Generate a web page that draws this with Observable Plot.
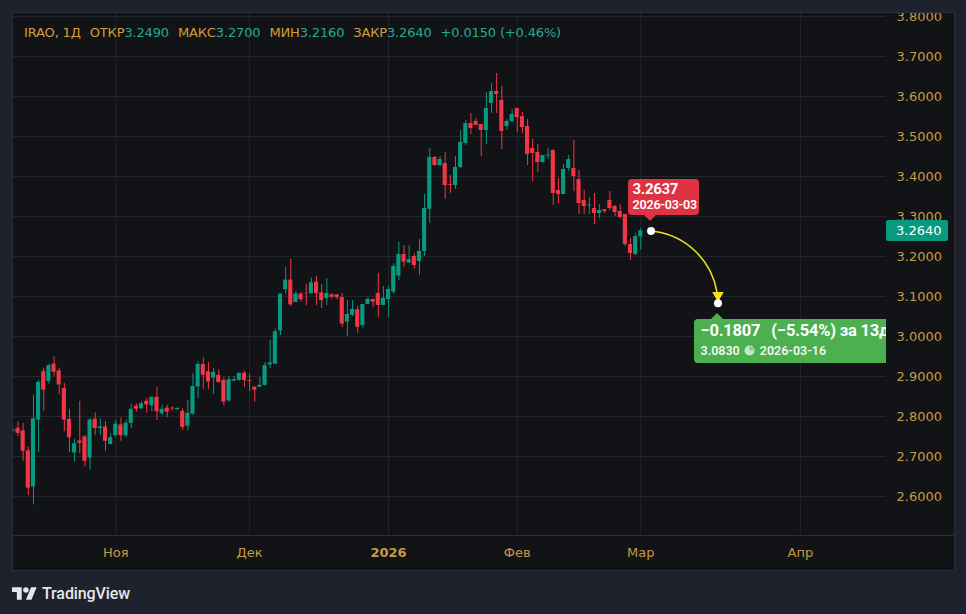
<!DOCTYPE html>
<html>
<head>
<meta charset="utf-8">
<script src="https://cdn.jsdelivr.net/npm/d3@7"></script>
<script src="https://cdn.jsdelivr.net/npm/@observablehq/plot@0.6"></script>
<style>
html,body{margin:0;padding:0;background:#1e222d;}
#root{position:relative;width:966px;height:614px;background:#1e222d;overflow:hidden;font-family:"DejaVu Sans",sans-serif;}
#panel{position:absolute;left:12px;top:12px;width:941px;height:557px;background:#121316;border:1px solid #2a2e39;}
#timeline{position:absolute;left:13px;top:535px;width:941px;height:1px;background:#2a2e39;}
#chart{position:absolute;left:13px;top:13px;}
#clip{position:absolute;left:13px;top:13px;width:873px;height:522px;overflow:hidden;}
#header{position:absolute;left:24px;top:25px;font-size:13px;line-height:15px;white-space:pre;color:#d49f3a;letter-spacing:-0.15px;}
#header .v{color:#22ab94;}
#header .g{margin-left:9px;}
.callout{position:absolute;border-radius:4px;color:#fff;font-family:Roboto,sans-serif;}
.callout .ln{position:absolute;white-space:pre;}
.ptr{position:absolute;width:0;height:0;border-left:6px solid transparent;border-right:6px solid transparent;}
#tag{position:absolute;left:886px;width:62px;height:21px;background:#089981;border-radius:2px;color:#fff;font-size:13px;line-height:21px;padding-left:10px;box-sizing:border-box;}
#logo{position:absolute;left:12px;top:584px;display:flex;align-items:center;color:#e6e7ea;}
#logo span{font-family:Roboto,sans-serif;font-size:16px;font-weight:500;margin-left:5px;letter-spacing:-0.1px;}
</style>
</head>
<body>
<div id="root">
  <div id="panel"></div>
  <div id="timeline"></div>
  <div id="chart"></div>
  <div id="clip"></div>
  <div id="header"></div>
  <div id="logo">
    <svg width="25" height="13" viewBox="0 4 36 18"><path d="M14 22H7V11H0V4h14v18z" fill="#e6e7ea"/><circle cx="20" cy="8" r="4" fill="#e6e7ea"/><path d="M28 22h-8l7.5-18h8L28 22z" fill="#e6e7ea"/></svg>
    <span>TradingView</span>
  </div>
</div>
<script>
// ---- data ----
const opens = [2.763,2.771,2.764,2.714,2.624,2.791,2.912,2.888,2.931,2.914,2.870,2.793,2.709,2.739,2.749,2.696,2.793,2.770,2.774,2.730,
2.752,2.779,2.752,2.783,2.826,2.819,2.838,2.827,2.848,2.807,2.821,2.821,2.817,2.813,2.776,2.806,2.874,2.930,2.912,2.896,
2.903,2.890,2.839,2.888,2.890,2.908,2.890,2.873,2.873,2.878,2.929,2.931,3.014,3.117,3.141,3.085,3.106,3.106,3.107,3.136,
3.109,3.095,3.104,3.104,3.0975,3.036,3.053,3.067,3.0275,3.080,3.0925,3.1075,3.0775,3.0925,3.111,3.151,3.205,3.184,3.200,3.1875,
3.2125,3.318,3.4475,3.4275,3.4325,3.380,3.3775,3.4225,3.4825,3.5325,3.5375,3.530,3.515,3.5825,3.6125,3.590,3.525,3.5375,3.570,3.550,
3.525,3.470,3.460,3.435,3.451,3.465,3.365,3.355,3.420,3.420,3.3925,3.340,3.3265,3.320,3.3075,3.317,3.340,3.325,3.3125,3.305,
3.230,3.205,3.249];
const highs = [2.768,2.786,2.783,2.724,2.853,2.890,2.921,2.931,2.949,2.921,2.883,2.818,2.743,2.838,2.752,2.796,2.809,2.794,2.787,2.757,
2.790,2.796,2.791,2.831,2.832,2.837,2.845,2.848,2.873,2.828,2.828,2.824,2.822,2.820,2.840,2.908,2.937,2.947,2.935,2.920,
2.917,2.897,2.900,2.900,2.908,2.913,2.905,2.875,2.898,2.935,2.991,3.019,3.106,3.173,3.193,3.112,3.110,3.130,3.146,3.151,
3.129,3.145,3.107,3.104,3.1075,3.090,3.090,3.075,3.080,3.098,3.094,3.1575,3.125,3.125,3.182,3.235,3.2275,3.2275,3.207,3.2425,
3.355,3.470,3.450,3.450,3.460,3.4025,3.450,3.515,3.540,3.5575,3.545,3.530,3.610,3.6325,3.6575,3.625,3.5425,3.5675,3.570,3.560,
3.5425,3.4925,3.480,3.4525,3.470,3.4675,3.395,3.430,3.4525,3.490,3.415,3.365,3.3475,3.3575,3.330,3.317,3.3625,3.3275,3.330,3.305,
3.245,3.2575,3.270];
const lows = [2.761,2.750,2.688,2.602,2.579,2.710,2.813,2.881,2.901,2.854,2.762,2.710,2.686,2.707,2.674,2.666,2.752,2.752,2.713,2.730,
2.748,2.738,2.747,2.770,2.811,2.819,2.808,2.812,2.790,2.802,2.797,2.814,2.815,2.765,2.764,2.803,2.845,2.868,2.868,2.855,
2.883,2.826,2.836,2.888,2.888,2.873,2.863,2.836,2.873,2.876,2.920,2.931,3.002,3.105,3.075,3.085,3.086,3.077,3.107,3.077,
3.070,3.077,3.093,3.092,3.023,3.000,3.050,3.008,3.021,3.080,3.072,3.048,3.0775,3.048,3.105,3.140,3.173,3.1825,3.169,3.153,
3.200,3.283,3.425,3.425,3.3425,3.358,3.3675,3.420,3.4775,3.505,3.5275,3.450,3.480,3.5575,3.5575,3.4675,3.515,3.535,3.510,3.5075,
3.4275,3.3875,3.410,3.4325,3.4425,3.3275,3.3325,3.355,3.4125,3.3625,3.305,3.305,3.305,3.280,3.295,3.3075,3.315,3.300,3.295,3.225,
3.190,3.2025,3.216];
const closes = [2.767,2.758,2.713,2.621,2.794,2.885,2.866,2.927,2.911,2.879,2.791,2.747,2.732,2.733,2.688,2.791,2.770,2.774,2.738,2.747,
2.781,2.752,2.783,2.818,2.818,2.832,2.829,2.848,2.812,2.818,2.811,2.819,2.820,2.7725,2.808,2.875,2.930,2.903,2.886,2.910,
2.885,2.836,2.892,2.892,2.908,2.890,2.888,2.866,2.878,2.927,2.934,3.012,3.106,3.141,3.079,3.106,3.092,3.105,3.134,3.107,
3.090,3.1075,3.098,3.097,3.031,3.055,3.0675,3.023,3.080,3.0925,3.086,3.0775,3.095,3.1175,3.175,3.205,3.186,3.1925,3.1775,3.2125,
3.320,3.4475,3.4275,3.4425,3.3775,3.378,3.4225,3.485,3.5325,3.520,3.5275,3.515,3.570,3.6125,3.605,3.5125,3.5375,3.555,3.5475,3.5225,
3.455,3.4575,3.435,3.4525,3.4535,3.3575,3.355,3.4175,3.4425,3.400,3.3325,3.325,3.3285,3.3075,3.315,3.3125,3.320,3.310,3.2975,3.230,
3.2075,3.250,3.264];

// bar index of month ticks and their labels
const tickIndex  = [21, 47, 74, 99, 123, 154];
const tickLabels = ["Ноя", "Дек", "2026", "Фев", "Мар", "Апр"];
const boldLabels = ["2026"];
const priceTicks = [2.6, 2.7, 2.8, 2.9, 3.0, 3.1, 3.2, 3.3, 3.4, 3.5, 3.6, 3.7, 3.8];

// projection annotation
const startIndex = 125, startPrice = 3.2637, startDate = "2026-03-03";
const endIndex   = 138, endPrice   = 3.0830, endDate   = "2026-03-16";
const changeAbs = "\u22120.1807", changeRest = "(\u22125.54%) за 13д";

// legend
const symbolText = "IRAO, 1Д";
const legendNames  = ["ОТКР", "МАКС", "МИН", "ЗАКР"];
const legendValues = ["3.2490", "3.2700", "3.2160", "3.2640"];
const changeLegend = "+0.0150 (+0.46%)";
const lastPrice = 3.2640;

// ---- styling ----
const UP = "#089981", DOWN = "#f23645", GRID = "#23262d", AXIS = "#c49a45", YELLOW = "#f2e21c";

const candles = opens.map((o, k) => ({
  i: k + 1, o, h: highs[k], l: lows[k], c: closes[k],
  dir: closes[k] >= o ? "up" : "down"
}));
const points = [
  {i: startIndex, price: startPrice},
  {i: endIndex, price: endPrice}
];
const projection = [{i1: startIndex, p1: startPrice, i2: endIndex, p2: endPrice}];
const labelOf = d => tickLabels[tickIndex.indexOf(d)];

const chart = Plot.plot({
  width: 940, height: 557,
  marginLeft: 0, marginRight: 67, marginTop: 0, marginBottom: 35,
  x: {domain: [1.126, 170.74]},
  y: {domain: [2.5025, 3.8075]},
  color: {domain: ["up", "down"], range: [UP, DOWN]},
  style: {background: "transparent", overflow: "hidden", fontFamily: "DejaVu Sans, sans-serif", fontSize: "13px"},
  marks: [
    Plot.gridY(priceTicks, {stroke: GRID, strokeOpacity: 1}),
    Plot.gridX(tickIndex, {stroke: GRID, strokeOpacity: 1}),
    Plot.ruleX(candles, {x: "i", y1: "l", y2: "h", stroke: "dir", strokeWidth: 1}),
    Plot.rect(candles, {
      x1: d => d.i - 0.4, x2: d => d.i + 0.4,
      y1: d => Math.min(d.o, d.c), y2: d => Math.max(d.o, d.c),
      fill: "dir"
    }),
    Plot.arrow(projection, {x1: "i1", y1: "p1", x2: "i2", y2: "p2", bend: 42,
      stroke: YELLOW, strokeWidth: 1.5, headLength: 0, insetStart: 4, insetEnd: 12}),
    Plot.dot(points.slice(1), {x: "i", y: "price", symbol: "triangle", rotate: 180, r: 4.3, fill: YELLOW, dy: -8}),
    Plot.dot(points, {x: "i", y: "price", r: 4, fill: "white"}),
    Plot.axisY(priceTicks, {anchor: "right", tickSize: 0, tickPadding: 10, tickFormat: d => d.toFixed(4),
      fill: AXIS, fontSize: 13, textAnchor: "start"}),
    Plot.axisX(tickIndex.filter(d => !boldLabels.includes(labelOf(d))), {anchor: "bottom", tickSize: 0, tickPadding: 12,
      tickFormat: labelOf, fill: AXIS, fontSize: 13}),
    Plot.axisX(tickIndex.filter(d => boldLabels.includes(labelOf(d))), {anchor: "bottom", tickSize: 0, tickPadding: 12,
      tickFormat: labelOf, fill: AXIS, fontSize: 13, fontWeight: "bold"})
  ]
});
document.getElementById("chart").appendChild(chart);

const sx = chart.scale("x"), sy = chart.scale("y");

// legend
const header = document.getElementById("header");
let html = `<span>${symbolText}</span>`;
legendNames.forEach((n, k) => { html += `<span class="g">${n}</span><span class="v">${legendValues[k]}</span>`; });
html += `<span class="g v">${changeLegend}</span>`;
header.innerHTML = html;

// callouts
const clip = document.getElementById("clip");
const px = sx.apply(startIndex), py = sy.apply(startPrice);
const red = document.createElement("div");
red.className = "callout";
Object.assign(red.style, {left: (px - 23) + "px", top: (py - 52) + "px", width: "71px", height: "36px", background: "#df3243"});
red.innerHTML = `<div class="ln" style="left:5px;top:1px;font-size:15px;font-weight:700;line-height:18px;letter-spacing:-0.3px">${startPrice.toFixed(4)}</div>
<div class="ln" style="left:5px;top:19px;font-size:12.5px;font-weight:600;line-height:14px;letter-spacing:-0.2px">${startDate}</div>
<div class="ptr" style="left:16px;top:36px;border-top:6px solid #df3243"></div>`;
clip.appendChild(red);

const qx = sx.apply(endIndex), qy = sy.apply(endPrice);
const green = document.createElement("div");
green.className = "callout";
Object.assign(green.style, {left: (qx - 23) + "px", top: (qy + 16) + "px", width: "260px", height: "44px", background: "#4caf50"});
green.innerHTML = `<div class="ln" style="left:6px;top:3px;font-size:16.5px;font-weight:700;line-height:18px;letter-spacing:-0.2px"><span style="margin-right:11px">${changeAbs}</span>${changeRest}</div>
<div class="ln" style="left:6px;top:24px;font-size:12.5px;font-weight:600;line-height:15px;color:#eef8ee;display:flex;align-items:center">${endPrice.toFixed(4)}<svg width="11" height="11" viewBox="0 0 12 12" style="margin:0 5px 0 4px"><circle cx="6" cy="6" r="5.5" fill="#c8e6c9"/><path d="M6 6V1.5A4.5 4.5 0 0 1 10.5 6z" fill="#4caf50" opacity="0.55"/></svg>${endDate}</div>
<div class="ptr" style="left:17px;top:-6px;border-bottom:6px solid #4caf50"></div>`;
clip.appendChild(green);

// last price tag
const tag = document.createElement("div");
tag.id = "tag";
tag.style.top = (13 + sy.apply(lastPrice) - 10.5) + "px";
tag.textContent = lastPrice.toFixed(4);
document.getElementById("root").appendChild(tag);
</script>
</body>
</html>
